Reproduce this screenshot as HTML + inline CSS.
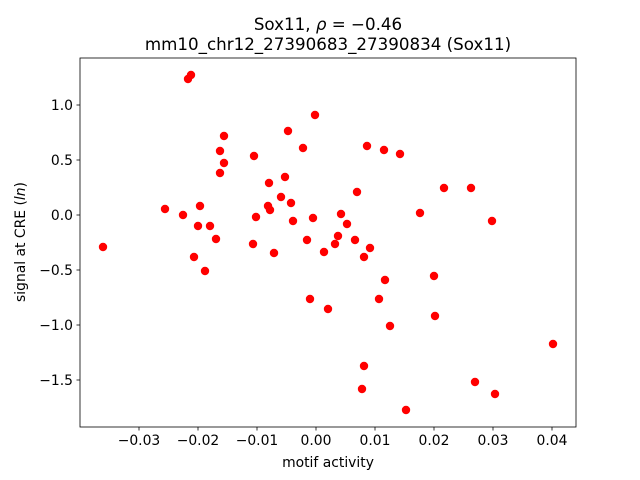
<!DOCTYPE html>
<html><head><meta charset="utf-8"><style>body{margin:0;background:#fff}svg{display:block}</style></head><body>
<svg width="640" height="480" xmlns="http://www.w3.org/2000/svg" font-family="'DejaVu Sans', sans-serif">
<rect width="640" height="480" fill="#fff"/>
<g fill="#ff0000">
<circle cx="103" cy="247" r="4.2"/><circle cx="165" cy="209" r="4.2"/><circle cx="183" cy="215" r="4.2"/><circle cx="188" cy="79" r="4.2"/><circle cx="191" cy="75" r="4.2"/><circle cx="194" cy="257" r="4.2"/><circle cx="198" cy="226" r="4.2"/><circle cx="200" cy="206" r="4.2"/><circle cx="205" cy="271" r="4.2"/><circle cx="210" cy="226" r="4.2"/><circle cx="216" cy="239" r="4.2"/><circle cx="220" cy="173" r="4.2"/><circle cx="220" cy="151" r="4.2"/><circle cx="224" cy="163" r="4.2"/><circle cx="224" cy="136" r="4.2"/><circle cx="254" cy="156" r="4.2"/><circle cx="253" cy="244" r="4.2"/><circle cx="256" cy="217" r="4.2"/><circle cx="268" cy="206" r="4.2"/><circle cx="269" cy="183" r="4.2"/><circle cx="270" cy="210" r="4.2"/><circle cx="274" cy="253" r="4.2"/><circle cx="281" cy="197" r="4.2"/><circle cx="285" cy="177" r="4.2"/><circle cx="288" cy="131" r="4.2"/><circle cx="291" cy="203" r="4.2"/><circle cx="293" cy="221" r="4.2"/><circle cx="303" cy="148" r="4.2"/><circle cx="307" cy="240" r="4.2"/><circle cx="310" cy="299" r="4.2"/><circle cx="313" cy="218" r="4.2"/><circle cx="315" cy="115" r="4.2"/><circle cx="324" cy="252" r="4.2"/><circle cx="328" cy="309" r="4.2"/><circle cx="335" cy="244" r="4.2"/><circle cx="338" cy="236" r="4.2"/><circle cx="341" cy="214" r="4.2"/><circle cx="347" cy="224" r="4.2"/><circle cx="355" cy="240" r="4.2"/><circle cx="357" cy="192" r="4.2"/><circle cx="362" cy="389" r="4.2"/><circle cx="364" cy="366" r="4.2"/><circle cx="364" cy="257" r="4.2"/><circle cx="367" cy="146" r="4.2"/><circle cx="370" cy="248" r="4.2"/><circle cx="379" cy="299" r="4.2"/><circle cx="384" cy="150" r="4.2"/><circle cx="385" cy="280" r="4.2"/><circle cx="390" cy="326" r="4.2"/><circle cx="400" cy="154" r="4.2"/><circle cx="406" cy="410" r="4.2"/><circle cx="420" cy="213" r="4.2"/><circle cx="434" cy="276" r="4.2"/><circle cx="435" cy="316" r="4.2"/><circle cx="444" cy="188" r="4.2"/><circle cx="471" cy="188" r="4.2"/><circle cx="475" cy="382" r="4.2"/><circle cx="492" cy="221" r="4.2"/><circle cx="495" cy="394" r="4.2"/><circle cx="553" cy="344" r="4.2"/>
</g>
<rect x="80" y="58" width="496" height="369" fill="none" stroke="#000" stroke-width="0.8"/>
<g stroke="#000" stroke-width="0.8">
<line x1="139" y1="427" x2="139" y2="430.5"/><line x1="198" y1="427" x2="198" y2="430.5"/><line x1="257" y1="427" x2="257" y2="430.5"/><line x1="316" y1="427" x2="316" y2="430.5"/><line x1="375" y1="427" x2="375" y2="430.5"/><line x1="434" y1="427" x2="434" y2="430.5"/><line x1="493" y1="427" x2="493" y2="430.5"/><line x1="552" y1="427" x2="552" y2="430.5"/>
<line x1="76.5" y1="105" x2="80" y2="105"/><line x1="76.5" y1="160" x2="80" y2="160"/><line x1="76.5" y1="215" x2="80" y2="215"/><line x1="76.5" y1="270" x2="80" y2="270"/><line x1="76.5" y1="325" x2="80" y2="325"/><line x1="76.5" y1="380" x2="80" y2="380"/>
</g>
<g font-size="13.9" text-anchor="middle" fill="#000">
<text x="139" y="445">−0.03</text><text x="198" y="445">−0.02</text><text x="257" y="445">−0.01</text><text x="316" y="445">0.00</text><text x="375" y="445">0.01</text><text x="434" y="445">0.02</text><text x="493" y="445">0.03</text><text x="552" y="445">0.04</text>
</g>
<g font-size="13.9" text-anchor="end" fill="#000">
<text x="73" y="110">1.0</text><text x="73" y="165">0.5</text><text x="73" y="220">0.0</text><text x="73" y="275">−0.5</text><text x="73" y="330">−1.0</text><text x="73" y="385">−1.5</text>
</g>
<text x="328" y="467" font-size="13.9" text-anchor="middle">motif activity</text>
<text transform="translate(25,242) rotate(-90)" font-size="13.9" text-anchor="middle">signal at CRE (<tspan font-style="italic">ln</tspan>)</text>
<text x="328" y="30" font-size="16.7" text-anchor="middle">Sox11, <tspan font-style="italic">ρ</tspan> = −0.46</text>
<text x="328" y="50" font-size="16.7" text-anchor="middle">mm10_chr12_27390683_27390834 (Sox11)</text>
</svg>
</body></html>
